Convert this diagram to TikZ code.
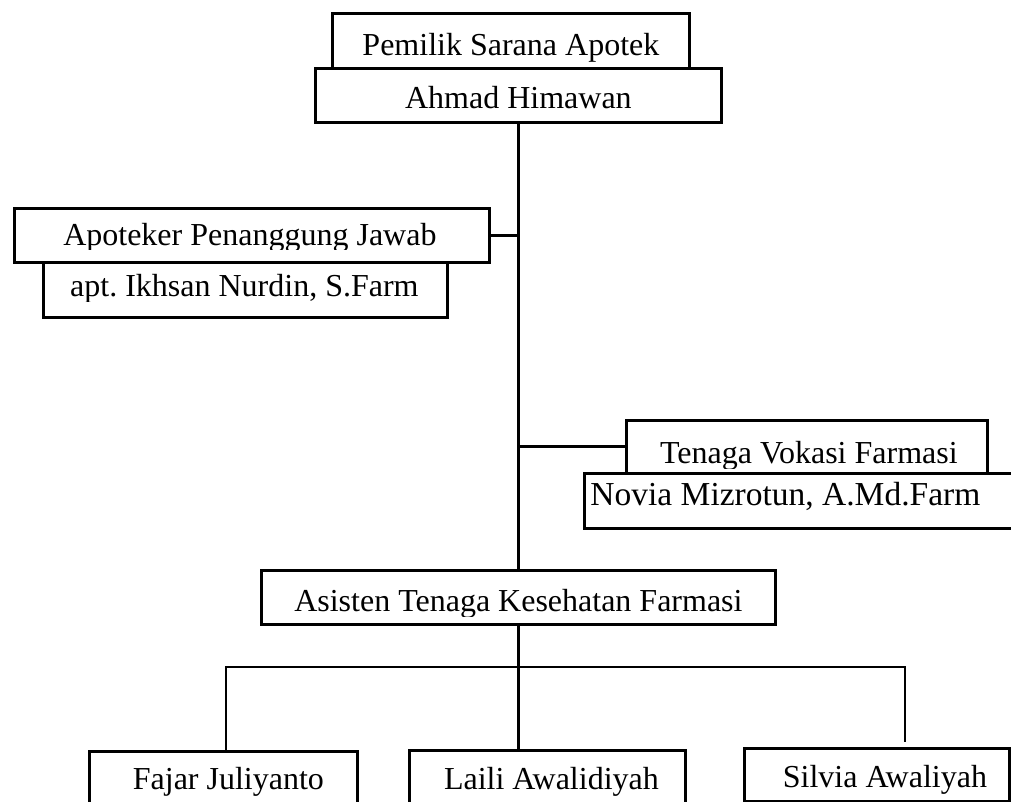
\documentclass[tikz,border=0pt]{standalone}
\usepackage{fontspec}
\setmainfont{Liberation Serif}
\usetikzlibrary{positioning,calc}
\frenchspacing

\tikzset{
  orgbox/.style={draw, line width=2.8pt, fill=white, inner sep=0pt, anchor=north west},
  % text of a box: x shift, baseline above bottom, cut above bottom, text
  boxtext/.style n args={4}{path picture={
      \clip ([yshift=#3pt]path picture bounding box.south west)
        rectangle (path picture bounding box.north east);
      \node[anchor=base, inner sep=0pt, font=\fontsize{32}{38}\selectfont]
        at ([xshift=#1pt,yshift=#2pt]path picture bounding box.south) {#4};
  }},
  link/.style={line width=3pt},
  thinlink/.style={line width=2.5pt},
}

\begin{document}
\begin{tikzpicture}[x=1pt,y=-1pt]

  \useasboundingbox (0,0) rectangle (1011,801);
  \clip (0,0) rectangle (1011,801);

  % owner
  \node[orgbox, minimum width=357pt, minimum height=55pt,
    boxtext={0}{13}{3}{Pemilik Sarana Apotek}] (owner) at (331,12) {};
  \node[orgbox, minimum width=406pt, minimum height=54pt,
    boxtext={0}{14}{3}{Ahmad Himawan}] (ownername) at (314,67) {};

  % pharmacist in charge
  \node[orgbox, minimum width=475pt, minimum height=54pt,
    boxtext={-2}{17}{13}{Apoteker Penanggung Jawab}] (apoteker) at (13,207) {};
  \node[orgbox, minimum width=404pt, minimum height=55pt,
    boxtext={-1}{21}{15.5}{apt. Ikhsan Nurdin, S.Farm}] (apotekername) at (42,261) {};

  % vocational staff
  \node[orgbox, minimum width=361pt, minimum height=53pt,
    boxtext={2}{10}{5}{Tenaga Vokasi Farmasi}] (vokasi) at (625,419) {};
  \node[orgbox, minimum width=450pt, minimum height=55pt,
    boxtext={-24}{23}{3}{\fontsize{33.5}{40}\selectfont Novia Mizrotun, A.Md.Farm}]
    (vokasiname) at (583,472) {};

  % assistants
  \node[orgbox, minimum width=514pt, minimum height=54pt,
    boxtext={0}{13}{8}{Asisten Tenaga Kesehatan Farmasi}] (asisten) at (260,569) {};

  \node[orgbox, minimum width=268pt, minimum height=62pt,
    boxtext={5}{24}{3}{Fajar Juliyanto}] (fajar) at (88,750) {};
  \node[orgbox, minimum width=276pt, minimum height=63pt,
    boxtext={4}{24}{3}{Laili Awalidiyah}] (laili) at (408,749) {};
  \node[orgbox, minimum width=265pt, minimum height=53pt,
    boxtext={8}{14}{8}{Silvia Awaliyah}] (silvia) at (743,747) {};

  % trunk and branches
  \draw[link] (ownername.south) -- (asisten.north);
  \draw[link] (apoteker.east) -- (apoteker.east -| ownername.south);
  \draw[link] (vokasi.west) -- (vokasi.west -| ownername.south);
  \draw[link] (asisten.south) -- (asisten.south |- laili.north);

  \coordinate (bar left) at (226,667);
  \coordinate (bar right) at (905,667);
  \draw[thinlink] (bar left |- fajar.north) -- (bar left) -- (bar right)
    -- ([yshift=5pt]bar right |- silvia.north);

\end{tikzpicture}
\end{document}
